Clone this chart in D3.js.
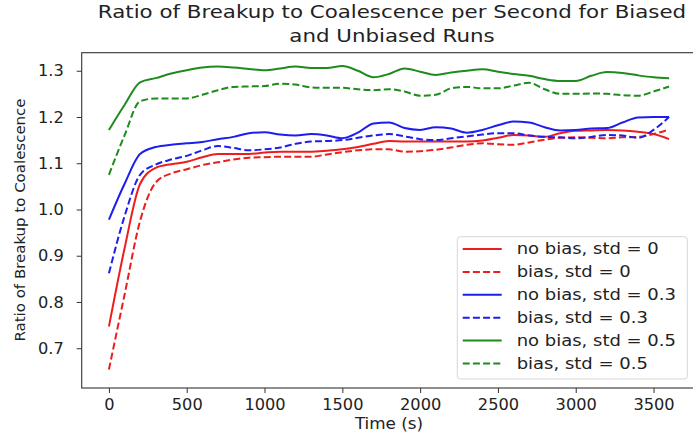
<!DOCTYPE html>
<html>
<head>
<meta charset="utf-8">
<script src="https://cdn.jsdelivr.net/npm/d3@7"></script>
<style>
  html, body { margin: 0; padding: 0; background: #fff; }
  svg { display: block; }
  text { font-family: "DejaVu Sans", sans-serif; fill: #222; }
</style>
</head>
<body>
<svg id="chart" width="693" height="439"></svg>
<script>
// Sampling times (s)
const times = [0, 100, 200, 300, 400, 500, 600, 700, 800, 900, 1000, 1100, 1200,
  1300, 1400, 1500, 1600, 1700, 1800, 1900, 2000, 2100, 2200, 2300, 2400, 2500,
  2600, 2700, 2800, 2900, 3000, 3100, 3200, 3300, 3400, 3500, 3600];

// Breakup / coalescence ratio per run
const noBiasStd0 = [0.747, 0.915, 1.055, 1.090, 1.098, 1.103, 1.113, 1.120, 1.120, 1.120,
  1.123, 1.125, 1.125, 1.125, 1.127, 1.130, 1.135, 1.142, 1.148, 1.147, 1.147, 1.147,
  1.147, 1.147, 1.149, 1.155, 1.161, 1.160, 1.157, 1.165, 1.170, 1.171, 1.172, 1.171,
  1.168, 1.163, 1.152];
const biasStd0 = [0.654, 0.815, 0.975, 1.058, 1.078, 1.087, 1.096, 1.102, 1.108, 1.112,
  1.113, 1.114, 1.114, 1.114, 1.119, 1.124, 1.128, 1.130, 1.130, 1.125, 1.126, 1.129,
  1.134, 1.140, 1.143, 1.141, 1.140, 1.145, 1.151, 1.155, 1.156, 1.155, 1.154, 1.156,
  1.157, 1.163, 1.173];
const noBiasStd03 = [0.978, 1.055, 1.120, 1.135, 1.140, 1.143, 1.146, 1.152, 1.157, 1.165,
  1.167, 1.162, 1.160, 1.163, 1.160, 1.154, 1.166, 1.186, 1.188, 1.176, 1.172, 1.178,
  1.175, 1.166, 1.172, 1.182, 1.190, 1.188, 1.178, 1.171, 1.172, 1.175, 1.176, 1.188,
  1.199, 1.200, 1.200];
const biasStd03 = [0.862, 0.985, 1.075, 1.097, 1.108, 1.116, 1.128, 1.137, 1.133, 1.128,
  1.130, 1.134, 1.142, 1.147, 1.148, 1.150, 1.155, 1.160, 1.163, 1.158, 1.152, 1.150,
  1.154, 1.158, 1.162, 1.165, 1.165, 1.160, 1.157, 1.156, 1.154, 1.157, 1.161, 1.160,
  1.155, 1.172, 1.200];
const noBiasStd05 = [1.172, 1.226, 1.275, 1.284, 1.294, 1.301, 1.307, 1.309, 1.307, 1.304,
  1.301, 1.305, 1.309, 1.306, 1.306, 1.310, 1.300, 1.286, 1.293, 1.305, 1.298, 1.291,
  1.296, 1.300, 1.303, 1.298, 1.293, 1.289, 1.282, 1.278, 1.278, 1.289, 1.297, 1.295,
  1.290, 1.286, 1.284];
const biasStd05 = [1.075, 1.160, 1.234, 1.240, 1.240, 1.240, 1.248, 1.258, 1.265, 1.266,
  1.267, 1.272, 1.270, 1.264, 1.263, 1.263, 1.260, 1.258, 1.260, 1.255, 1.246, 1.248,
  1.262, 1.265, 1.262, 1.262, 1.268, 1.274, 1.260, 1.250, 1.250, 1.251, 1.250, 1.247,
  1.246, 1.255, 1.266];

const seriesLabels = ["no bias, std = 0", "bias, std = 0", "no bias, std = 0.3",
  "bias, std = 0.3", "no bias, std = 0.5", "bias, std = 0.5"];
const xTicks = [0, 500, 1000, 1500, 2000, 2500, 3000, 3500];
const yTicks = [0.7, 0.8, 0.9, 1.0, 1.1, 1.2, 1.3];

const series = [
  { label: seriesLabels[0], values: noBiasStd0,  color: "#ee1d1d", dashed: false },
  { label: seriesLabels[1], values: biasStd0,    color: "#ee1d1d", dashed: true },
  { label: seriesLabels[2], values: noBiasStd03, color: "#1d1def", dashed: false },
  { label: seriesLabels[3], values: biasStd03,   color: "#1d1def", dashed: true },
  { label: seriesLabels[4], values: noBiasStd05, color: "#1d8c1d", dashed: false },
  { label: seriesLabels[5], values: biasStd05,   color: "#1d8c1d", dashed: true }
];

const svg = d3.select("#chart");
const plot = { left: 81.7, right: 697.1, top: 52.7, bottom: 388 };

const x = d3.scaleLinear().domain([-175, 3780]).range([plot.left, plot.right]);
const y = d3.scaleLinear().domain([0.614, 1.339]).range([plot.bottom, plot.top]);

const DASH = "7,3.2";

// Horizontally widened text, anchored at (tx, ty)
function widen(sel, tx, ty, sx) {
  sel.attr("x", 0).attr("y", 0)
     .attr("transform", `translate(${tx},${ty}) scale(${sx},1)`);
}

// Series lines
const line = d3.line()
  .x((d, i) => x(times[i]))
  .y(d => y(d))
  .curve(d3.curveMonotoneX);

const lines = svg.append("g");
series.forEach(s => {
  lines.append("path")
    .datum(s.values)
    .attr("d", line)
    .attr("fill", "none")
    .attr("stroke", s.color)
    .attr("stroke-width", 2)
    .attr("stroke-dasharray", s.dashed ? DASH : null);
});

// Axes
const xAxis = svg.append("g")
  .attr("transform", `translate(0,${plot.bottom})`)
  .call(d3.axisBottom(x).tickValues(xTicks).tickSize(5).tickSizeOuter(0).tickFormat(d3.format("d")));
const yAxis = svg.append("g")
  .attr("transform", `translate(${plot.left},0)`)
  .call(d3.axisLeft(y).tickValues(yTicks).tickSize(5).tickSizeOuter(0).tickFormat(d3.format(".1f")));

[xAxis, yAxis].forEach(a => {
  a.select(".domain").remove();
  a.selectAll(".tick line").attr("stroke", "#333").attr("stroke-width", 1);
  a.selectAll(".tick text").attr("font-size", 15).attr("fill", "#222")
    .style("font-family", "DejaVu Sans, sans-serif");
});
xAxis.selectAll(".tick text").attr("text-anchor", "middle").attr("dy", null)
  .each(function () { widen(d3.select(this), 0, 22, 1.08); });
yAxis.selectAll(".tick text").attr("text-anchor", "end").attr("dy", "0.35em")
  .each(function () { widen(d3.select(this), -18, 0, 1.08); });

// Frame
svg.append("rect")
  .attr("x", plot.left).attr("y", plot.top)
  .attr("width", plot.right - plot.left).attr("height", plot.bottom - plot.top)
  .attr("fill", "none").attr("stroke", "#333").attr("stroke-width", 1.1);

// Axis labels
svg.append("text").text("Time (s)")
  .attr("font-size", 15).attr("text-anchor", "middle")
  .call(widen, 389, 429, 1.12);
svg.append("text").text("Ratio of Breakup to Coalescence")
  .attr("font-size", 15).attr("text-anchor", "middle")
  .attr("transform", "translate(25,220) rotate(-90) scale(1,0.95)");

// Title
const title = ["Ratio of Breakup to Coalescence per Second for Biased", "and Unbiased Runs"];
title.forEach((t, i) => {
  svg.append("text").text(t)
    .attr("font-size", 17.5).attr("text-anchor", "middle")
    .call(widen, 392, 18 + i * 23.5, 1.22);
});

// Legend
const legend = svg.append("g");
legend.append("rect")
  .attr("x", 457.3).attr("y", 236.7).attr("width", 230).attr("height", 142.3)
  .attr("rx", 3).attr("fill", "#fff").attr("fill-opacity", 0.8)
  .attr("stroke", "#d6d6d6").attr("stroke-width", 1);
series.forEach((s, i) => {
  const cy = 249 + i * 22.9;
  legend.append("line")
    .attr("x1", 462.7).attr("x2", 501.7).attr("y1", cy).attr("y2", cy)
    .attr("stroke", s.color).attr("stroke-width", 2)
    .attr("stroke-dasharray", s.dashed ? DASH : null);
  legend.append("text").text(s.label)
    .attr("font-size", 15).attr("dy", "0.35em")
    .call(widen, 516.7, cy, 1.2);
});
</script>
</body>
</html>
